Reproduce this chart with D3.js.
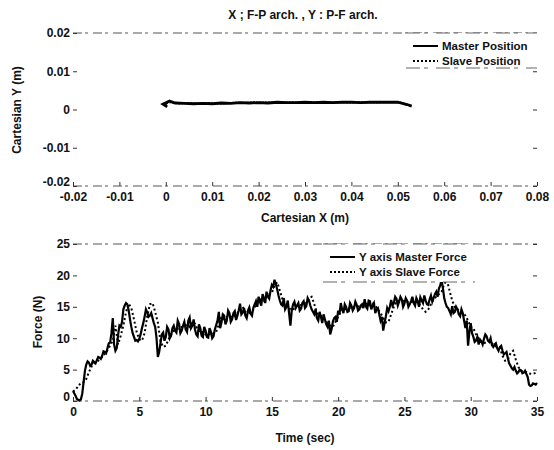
<!DOCTYPE html>
<html>
<head>
<meta charset="utf-8">
<script src="https://cdn.jsdelivr.net/npm/d3@7"></script>
<style>
  body { margin: 0; background: #fff; }
  svg { display: block; font-family: "Liberation Sans", Arial, sans-serif; }
  .tick text { font-size: 12px; font-weight: bold; fill: #111; }
  .lbl { font-size: 11.5px; font-weight: bold; fill: #111; }
</style>
</head>
<body>
<svg id="chart" width="554" height="450"></svg>
<script>
// top plot: cartesian position, values in metres
const posXTicks = [-0.02, -0.01, 0, 0.01, 0.02, 0.03, 0.04, 0.05, 0.06, 0.07, 0.08];
const posYTicks = [-0.02, -0.01, 0, 0.01, 0.02];
const masterPosition = [
  [0.0003, 0.0007], [-0.0006, 0.0014], [0.0008, 0.0022], [0.002, 0.0017], [0.004, 0.0016],
  [0.006, 0.0015], [0.008, 0.0016], [0.010, 0.0015], [0.012, 0.0017], [0.014, 0.0016],
  [0.016, 0.0018], [0.018, 0.0017], [0.020, 0.0018], [0.022, 0.0017], [0.024, 0.0019],
  [0.026, 0.0018], [0.028, 0.0018], [0.030, 0.0019], [0.032, 0.0018], [0.034, 0.0019],
  [0.036, 0.0018], [0.038, 0.0019], [0.040, 0.0019], [0.042, 0.0018], [0.044, 0.0019],
  [0.046, 0.0019], [0.048, 0.0019], [0.050, 0.0019], [0.051, 0.0016], [0.052, 0.0013],
  [0.053, 0.0009]
];
const slavePosition = [
  [0.0002, 0.0010], [-0.0004, 0.0015], [0.0010, 0.0019], [0.003, 0.0016], [0.005, 0.0017],
  [0.007, 0.0015], [0.009, 0.0017], [0.011, 0.0016], [0.013, 0.0016], [0.015, 0.0018],
  [0.017, 0.0017], [0.019, 0.0019], [0.021, 0.0018], [0.023, 0.0018], [0.025, 0.0018],
  [0.027, 0.0019], [0.029, 0.0018], [0.031, 0.0019], [0.033, 0.0019], [0.035, 0.0018],
  [0.037, 0.0019], [0.039, 0.0018], [0.041, 0.0019], [0.043, 0.0019], [0.045, 0.0018],
  [0.047, 0.0019], [0.049, 0.0019], [0.0505, 0.0018], [0.0515, 0.0014], [0.0528, 0.0010]
];

// bottom plot: force along Y, [time (s), force (N)]
const timeTicks = [0, 5, 10, 15, 20, 25, 30, 35];
const forceTicks = [0, 5, 10, 15, 20, 25];
const masterForce = [
  [0,1.6],[0.1,1.2],[0.2,0.8],[0.3,0.3],[0.4,0.2],[0.5,0.1],[0.6,0.3],[0.7,1.2],[0.8,3.0],[0.9,4.8],
  [1,5.8],[1.1,6.3],[1.2,6.1],[1.3,5.6],[1.4,5.8],[1.5,6.4],[1.6,6.2],[1.7,6.0],[1.8,6.5],[1.9,7.0],
  [2,6.9],[2.1,6.7],[2.2,7.2],[2.3,7.9],[2.4,7.8],[2.5,7.6],[2.6,8.4],[2.7,9.2],[2.8,9.3],[2.9,10.8],
  [3,13.2],[3.1,9.0],[3.2,8.0],[3.3,8.4],[3.4,10.5],[3.5,12.0],[3.6,11.8],[3.7,12.6],[3.8,14.6],[3.9,15.2],
  [4,15.6],[4.1,15.4],[4.2,14.4],[4.3,13.0],[4.4,11.8],[4.5,10.8],[4.6,10.2],[4.7,9.6],[4.8,9.7],[4.9,9.5],
  [5,9.9],[5.1,10.6],[5.2,11.6],[5.3,12.4],[5.4,13.4],[5.5,14.6],[5.6,14.1],[5.7,13.4],[5.8,13.6],[5.9,14.0],
  [6,13.2],[6.1,12.4],[6.2,11.8],[6.3,10.0],[6.4,7.0],[6.5,7.8],[6.6,9.2],[6.7,10.6],[6.8,10.9],[6.9,9.6],
  [7,10.2],[7.1,11.8],[7.2,11.4],[7.3,10.0],[7.4,10.4],[7.5,11.6],[7.6,12.0],[7.7,11.2],[7.8,10.9],[7.9,12.8],
  [8,12.3],[8.1,10.8],[8.2,11.2],[8.3,12.0],[8.4,12.6],[8.5,11.4],[8.6,11.0],[8.7,12.8],[8.8,13.3],[8.9,11.6],
  [9,12.0],[9.1,13.0],[9.2,11.4],[9.3,10.6],[9.4,10.3],[9.5,12.2],[9.6,11.6],[9.7,10.4],[9.8,10.2],[9.9,11.8],
  [10,11.2],[10.1,10.2],[10.2,10.1],[10.3,11.6],[10.4,11.0],[10.5,10.0],[10.6,10.3],[10.7,11.4],[10.8,12.1],[10.9,12.8],
  [11,14.2],[11.1,11.6],[11.2,12.5],[11.3,13.8],[11.4,13.6],[11.5,12.2],[11.6,12.8],[11.7,14.4],[11.8,14.0],[11.9,12.6],
  [12,13.0],[12.1,14.0],[12.2,14.3],[12.3,12.9],[12.4,13.6],[12.5,14.4],[12.6,15.5],[12.7,13.8],[12.8,14.1],[12.9,14.8],
  [13,13.6],[13.1,13.2],[13.2,14.4],[13.3,14.9],[13.4,13.9],[13.5,13.6],[13.6,14.8],[13.7,15.4],[13.8,15.9],[13.9,15.0],
  [14,16.6],[14.1,15.8],[14.2,15.2],[14.3,17.0],[14.4,16.4],[14.5,15.6],[14.6,17.4],[14.7,16.6],[14.8,16.3],[14.9,17.6],
  [15,18.5],[15.1,18.2],[15.2,19.3],[15.3,18.6],[15.4,17.8],[15.5,16.8],[15.6,16.0],[15.7,15.4],[15.8,15.2],[15.9,16.4],
  [16,14.6],[16.1,15.0],[16.2,16.0],[16.3,14.0],[16.4,12.0],[16.5,14.4],[16.6,15.4],[16.7,15.8],[16.8,14.8],[16.9,15.2],
  [17,15.6],[17.1,14.4],[17.2,14.7],[17.3,15.6],[17.4,15.9],[17.5,14.8],[17.6,15.1],[17.7,16.4],[17.8,16.0],[17.9,15.2],
  [18,14.6],[18.1,14.2],[18.2,13.8],[18.3,14.6],[18.4,13.2],[18.5,12.8],[18.6,14.2],[18.7,13.4],[18.8,12.4],[18.9,13.8],
  [19,13.0],[19.1,12.2],[19.2,11.8],[19.3,12.8],[19.4,10.6],[19.5,11.4],[19.6,12.6],[19.7,13.2],[19.8,13.4],[19.9,12.6],
  [20,14.4],[20.1,13.8],[20.2,15.6],[20.3,14.6],[20.4,14.0],[20.5,15.4],[20.6,15.0],[20.7,14.2],[20.8,14.3],[20.9,15.6],
  [21,15.2],[21.1,14.4],[21.2,14.8],[21.3,15.8],[21.4,15.3],[21.5,14.4],[21.6,14.6],[21.7,15.2],[21.8,15.4],[21.9,14.8],
  [22,16.2],[22.1,15.0],[22.2,14.7],[22.3,16.0],[22.4,15.9],[22.5,14.6],[22.6,15.2],[22.7,15.6],[22.8,14.0],[22.9,14.6],
  [23,14.8],[23.1,13.8],[23.2,12.8],[23.3,13.4],[23.4,11.2],[23.5,12.4],[23.6,13.5],[23.7,14.8],[23.8,14.3],[23.9,15.0],
  [24,16.1],[24.1,15.2],[24.2,15.6],[24.3,16.6],[24.4,16.3],[24.5,15.2],[24.6,15.8],[24.7,16.6],[24.8,16.2],[24.9,15.0],
  [25,15.5],[25.1,16.4],[25.2,16.0],[25.3,15.0],[25.4,15.4],[25.5,15.9],[25.6,16.6],[25.7,15.6],[25.8,15.2],[25.9,16.4],
  [26,15.9],[26.1,15.0],[26.2,16.5],[26.3,16.0],[26.4,15.6],[26.5,16.8],[26.6,16.0],[26.7,15.4],[26.8,15.3],[26.9,16.2],
  [27,16.8],[27.1,15.8],[27.2,16.4],[27.3,17.0],[27.4,17.4],[27.5,16.6],[27.6,17.9],[27.7,18.4],[27.8,19.3],[27.9,18.0],
  [28,16.4],[28.1,15.6],[28.2,15.0],[28.3,14.8],[28.4,14.3],[28.5,13.8],[28.6,15.1],[28.7,14.0],[28.8,14.2],[28.9,15.0],
  [29,14.6],[29.1,13.8],[29.2,13.5],[29.3,14.6],[29.4,14.0],[29.5,12.8],[29.6,11.6],[29.7,12.8],[29.8,8.8],[29.9,11.0],
  [30,12.4],[30.1,10.8],[30.2,10.2],[30.3,9.4],[30.4,9.6],[30.5,10.2],[30.6,9.0],[30.7,9.8],[30.8,9.5],[30.9,9.0],
  [31,9.9],[31.1,10.6],[31.2,10.3],[31.3,9.6],[31.4,9.4],[31.5,10.0],[31.6,8.9],[31.7,8.6],[31.8,9.0],[31.9,9.2],
  [32,8.4],[32.1,8.0],[32.2,8.6],[32.3,8.8],[32.4,8.0],[32.5,7.4],[32.6,7.6],[32.7,7.8],[32.8,6.8],[32.9,6.0],
  [33,5.6],[33.1,5.2],[33.2,5.0],[33.3,5.4],[33.4,4.8],[33.5,4.4],[33.6,4.6],[33.7,5.0],[33.8,4.9],[33.9,4.4],
  [34,4.5],[34.1,4.8],[34.2,4.3],[34.3,3.8],[34.4,2.6],[34.5,2.4],[34.6,2.5],[34.7,2.8],[34.8,2.7],[34.9,2.6],[35,2.9]
];
const slaveForce = [
  [0,1.5],[0.2,1.8],[0.4,2.4],[0.6,2.9],[0.8,3.0],[1,3.5],[1.2,4.6],[1.4,5.5],[1.6,6.0],[1.8,6.2],
  [2,6.6],[2.2,7.0],[2.4,7.5],[2.6,8.1],[2.8,8.8],[3,9.6],[3.2,12.0],[3.4,9.0],[3.6,10.4],[3.8,12.0],
  [4,14.2],[4.2,15.5],[4.4,14.8],[4.6,13.0],[4.8,11.0],[5,9.8],[5.2,9.6],[5.4,10.8],[5.6,13.5],[5.8,15.4],
  [6,15.6],[6.2,14.2],[6.4,12.5],[6.6,9.5],[6.8,8.6],[7,8.8],[7.2,9.8],[7.4,10.6],[7.6,11.2],[7.8,11.4],
  [8,11.6],[8.2,11.8],[8.4,11.9],[8.6,12.2],[8.8,11.8],[9,12.6],[9.2,12.3],[9.4,11.4],[9.6,10.8],[9.8,11.0],
  [10,10.6],[10.2,10.8],[10.4,10.5],[10.6,10.8],[10.8,11.0],[11,12.2],[11.2,13.4],[11.4,13.0],[11.6,13.4],[11.8,13.2],
  [12,13.6],[12.2,13.5],[12.4,14.0],[12.6,14.6],[12.8,15.0],[13,14.2],[13.2,14.0],[13.4,14.1],[13.6,14.5],[13.8,15.2],
  [14,16.0],[14.2,16.2],[14.4,15.9],[14.6,16.8],[14.8,17.0],[15,17.2],[15.2,18.4],[15.4,18.9],[15.6,17.6],[15.8,16.2],
  [16,15.2],[16.2,15.0],[16.4,14.6],[16.6,14.5],[16.8,15.1],[17,15.2],[17.2,15.3],[17.4,15.4],[17.6,15.8],[17.8,16.3],
  [18,16.6],[18.2,15.4],[18.4,14.0],[18.6,13.6],[18.8,13.5],[19,12.8],[19.2,12.4],[19.4,12.0],[19.6,11.8],[19.8,12.6],
  [20,13.4],[20.2,14.2],[20.4,14.8],[20.6,14.6],[20.8,14.8],[21,14.8],[21.2,15.0],[21.4,15.0],[21.6,15.1],[21.8,15.0],
  [22,15.3],[22.2,15.6],[22.4,15.2],[22.6,15.5],[22.8,15.2],[23,14.6],[23.2,14.0],[23.4,13.2],[23.6,12.5],[23.8,12.6],
  [24,13.8],[24.2,15.0],[24.4,15.8],[24.6,16.0],[24.8,16.0],[25,15.9],[25.2,15.8],[25.4,15.7],[25.6,15.8],[25.8,15.9],
  [26,15.6],[26.2,15.2],[26.4,14.6],[26.6,14.2],[26.8,14.6],[27,15.4],[27.2,16.2],[27.4,16.6],[27.6,17.0],[27.8,17.4],
  [28,18.6],[28.2,19.3],[28.4,17.6],[28.6,16.0],[28.8,15.0],[29,14.6],[29.2,14.2],[29.4,14.0],[29.6,13.6],[29.8,12.8],
  [30,11.8],[30.2,11.6],[30.4,10.6],[30.6,9.8],[30.8,9.4],[31,9.2],[31.2,9.4],[31.4,9.6],[31.6,9.2],[31.8,8.8],
  [32,8.6],[32.2,8.4],[32.4,7.2],[32.6,6.4],[32.8,6.6],[33,7.6],[33.2,8.0],[33.4,6.6],[33.6,5.4],[33.8,4.8],
  [34,4.7],[34.2,4.6],[34.4,4.4],[34.6,4.3],[34.8,4.4],[35,4.6]
];

const svg = d3.select('#chart');
const left = 73, right = 537;
const fmt = d => String(+d.toFixed(2)); // keeps the plain hyphen of the print

function drawAxes(g, x, y, xTicks, yTicks) {
  const [x0, x1] = x.range();
  const [y0, y1] = y.range();
  // box: only top and bottom edges survive in the print, broken and grey
  [y0, y1].forEach(yy => {
    g.append('line').attr('x1', x0).attr('x2', x1).attr('y1', yy).attr('y2', yy)
      .attr('stroke', '#555').attr('stroke-width', 1).attr('stroke-dasharray', '9,3,3,5');
  });

  const xAxis = d3.axisBottom(x).tickValues(xTicks).tickFormat(fmt).tickSizeInner(-4).tickSizeOuter(0).tickPadding(6);
  g.append('g').attr('transform', `translate(0,${y0})`).call(xAxis)
    .call(a => a.select('.domain').remove());
  const yAxis = d3.axisLeft(y).tickValues(yTicks).tickFormat(fmt).tickSizeInner(-4).tickSizeOuter(0).tickPadding(3);
  const ya = g.append('g').attr('transform', `translate(${x0},0)`).call(yAxis)
    .call(a => a.select('.domain').remove());
  // lowest y label sits a little higher so it only just clears the first x label
  ya.selectAll('.tick text').filter((d, i) => i === 0).attr('dy', '-0.05em');
  const yAxisR = d3.axisRight(y).tickValues(yTicks).tickFormat('').tickSizeInner(-4).tickSizeOuter(0);
  g.append('g').attr('transform', `translate(${x1},0)`).call(yAxisR)
    .call(a => a.select('.domain').remove());
  g.selectAll('.tick line').attr('stroke', '#333');
}

function drawLegend(g, x, y, w, h, items) {
  g.append('rect').attr('x', x).attr('y', y).attr('width', w).attr('height', h).attr('fill', '#fff');
  [y, y + h].forEach(yy => {
    g.append('line').attr('x1', x).attr('x2', x + w).attr('y1', yy).attr('y2', yy)
      .attr('stroke', '#666').attr('stroke-width', 1).attr('stroke-dasharray', '14,4,4,8');
  });
  items.forEach((it, i) => {
    const cy = y + 13 + i * 15;
    g.append('line').attr('x1', x + 7).attr('x2', x + 32).attr('y1', cy).attr('y2', cy)
      .attr('stroke', '#000').attr('stroke-width', 2)
      .attr('stroke-dasharray', it.dash);
    g.append('text').attr('class', 'lbl').attr('x', x + 36).attr('y', cy + 4).text(it.label);
  });
}

// ---- top plot ----
const xPos = d3.scaleLinear().domain([-0.02, 0.08]).range([left, right]);
const yPos = d3.scaleLinear().domain([-0.02, 0.02]).range([186, 33]);
const gTop = svg.append('g');
drawAxes(gTop, xPos, yPos, posXTicks, posYTicks);

const posLine = d3.line().x(d => xPos(d[0])).y(d => yPos(d[1]));
gTop.append('path').datum(masterPosition).attr('d', posLine)
  .attr('fill', 'none').attr('stroke', '#000').attr('stroke-width', 2.8);
gTop.append('path').datum(slavePosition).attr('d', posLine)
  .attr('fill', 'none').attr('stroke', '#000').attr('stroke-width', 2).attr('stroke-dasharray', '1.5,1.5');

drawLegend(gTop, 406, 33, 131, 35, [
  { label: 'Master Position', dash: null },
  { label: 'Slave Position', dash: '2,2' }
]);

gTop.append('text').attr('class', 'lbl').attr('x', 303).attr('y', 19).attr('text-anchor', 'middle')
  .style('font-size', '12px').text('X ; F-P arch. ,  Y : P-F arch.');
gTop.append('text').attr('class', 'lbl').attr('x', 305).attr('y', 222).attr('text-anchor', 'middle')
  .style('font-size', '12px').text('Cartesian X (m)');
gTop.append('text').attr('class', 'lbl').attr('transform', 'translate(21,110) rotate(-90)')
  .attr('text-anchor', 'middle').style('font-size', '12px').text('Cartesian Y (m)');

// ---- bottom plot ----
const xT = d3.scaleLinear().domain([0, 35]).range([left, right]);
const yF = d3.scaleLinear().domain([0, 25]).range([401, 244]);
const gBot = svg.append('g');
drawAxes(gBot, xT, yF, timeTicks, forceTicks);

const forceLine = d3.line().x(d => xT(d[0])).y(d => yF(d[1]));
gBot.append('path').datum(slaveForce).attr('d', forceLine)
  .attr('fill', 'none').attr('stroke', '#000').attr('stroke-width', 2).attr('stroke-dasharray', '2,2.5');
gBot.append('path').datum(masterForce).attr('d', forceLine)
  .attr('fill', 'none').attr('stroke', '#000').attr('stroke-width', 2.2);

drawLegend(gBot, 323, 244, 152, 38, [
  { label: 'Y axis Master Force', dash: null },
  { label: 'Y axis Slave Force', dash: '2,2' }
]);

gBot.append('text').attr('class', 'lbl').attr('x', 305).attr('y', 442).attr('text-anchor', 'middle')
  .style('font-size', '12px').text('Time (sec)');
gBot.append('text').attr('class', 'lbl').attr('transform', 'translate(42,322) rotate(-90)')
  .attr('text-anchor', 'middle').style('font-size', '12px').text('Force (N)');
</script>
</body>
</html>
